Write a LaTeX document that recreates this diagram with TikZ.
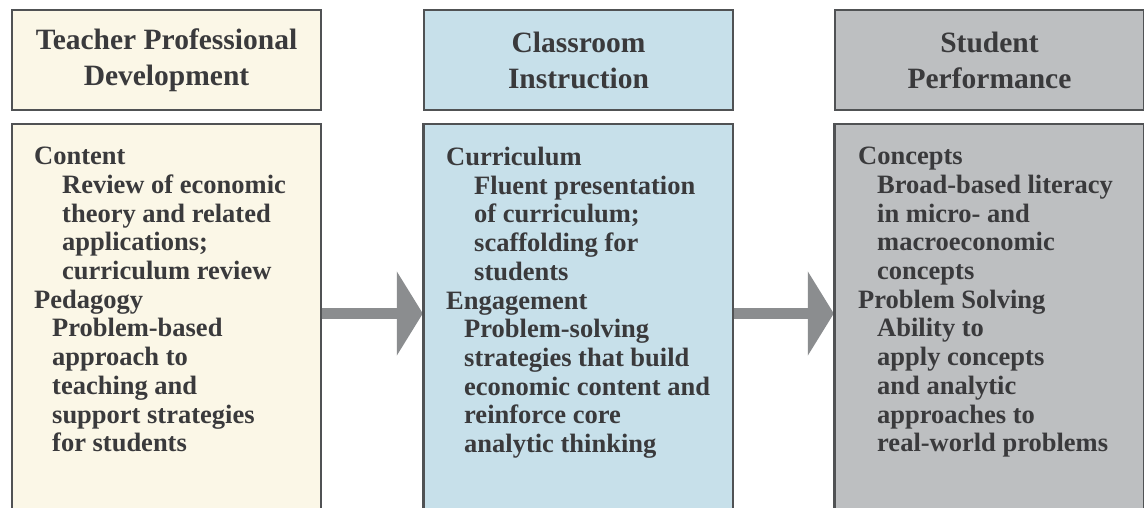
\documentclass[tikz,border=0pt]{standalone}
\usepackage{fontspec}
\setmainfont{Liberation Serif}
\usetikzlibrary{arrows.meta}
\definecolor{pdfill}{HTML}{FBF7E7}
\definecolor{cifill}{HTML}{C7E0EA}
\definecolor{spfill}{HTML}{BDBFC1}
\definecolor{boxline}{HTML}{505254}
\definecolor{ink}{HTML}{3A3A3C}
\definecolor{arrowgray}{HTML}{8B8D8F}
\begin{document}
\begin{tikzpicture}[x=1pt,y=1pt,
  frame/.style={draw=boxline, line width=2.4pt, inner sep=0pt},
  head/.style={frame, minimum width=309pt, minimum height=100pt, align=center,
    font=\bfseries\fontsize{29.5}{36}\selectfont, text=ink},
  body/.style={frame, minimum width=309pt, minimum height=420pt, anchor=north},
  bodytext/.style={anchor=north west, inner sep=0pt, align=left,
    font=\bfseries\fontsize{26.5}{28.7}\selectfont, text=ink},
  flow/.style={line width=11pt, draw=arrowgray, -{Triangle[length=26pt,width=83pt]}}]
\useasboundingbox (0,0) rectangle (1144,-508);
\clip (0,0) rectangle (1144,-508);
\fill[white] (0,0) rectangle (1144,-508);

% column headers
\node[head, fill=pdfill] (h1) at (166.5,-60) {Teacher Professional\\Development};
\node[head, fill=cifill] (h2) at (578.5,-60) {Classroom\\Instruction};
\node[head, fill=spfill] (h3) at (989.5,-60) {Student\\Performance};

% body panels (run past the lower edge)
\node[body, fill=pdfill] (b1) at (166.5,-123) {};
\node[body, fill=cifill] (b2) at (578.5,-123) {};
\node[body, fill=spfill] (b3) at (989.5,-123) {};

% flow arrows between panels
\coordinate (ay) at (0,-313.5);
\draw[flow] (b1.east |- ay) -- (b2.west |- ay);
\draw[flow] (b2.east |- ay) -- (b3.west |- ay);
\draw[boxline, line width=2.4pt] (b2.north west) -- ++(0,-420) (b3.north west) -- ++(0,-420);

% panel texts
\node[bodytext] (t1) at (34,-147) {Content\\
\hspace*{28pt}Review of economic\\
\hspace*{28pt}theory and related\\
\hspace*{28pt}applications;\\
\hspace*{28pt}curriculum review\\
Pedagogy\\
\hspace*{18pt}Problem-based\\
\hspace*{18pt}approach to\\
\hspace*{18pt}teaching and\\
\hspace*{18pt}support strategies\\
\hspace*{18pt}for students};

\node[bodytext] (t2) at (446,-147) {Curriculum\\
\hspace*{28pt}Fluent presentation\\
\hspace*{28pt}of curriculum;\\
\hspace*{28pt}scaffolding for\\
\hspace*{28pt}students\\
Engagement\\
\hspace*{18pt}Problem-solving\\
\hspace*{18pt}strategies that build\\
\hspace*{18pt}economic content and\\
\hspace*{18pt}reinforce core\\
\hspace*{18pt}analytic thinking};

\node[bodytext] (t3) at (858,-147) {Concepts\\
\hspace*{19pt}Broad-based literacy\\
\hspace*{19pt}in micro- and\\
\hspace*{19pt}macroeconomic\\
\hspace*{19pt}concepts\\
Problem Solving\\
\hspace*{19pt}Ability to\\
\hspace*{19pt}apply concepts\\
\hspace*{19pt}and analytic\\
\hspace*{19pt}approaches to\\
\hspace*{19pt}real-world problems};
\end{tikzpicture}
\end{document}
